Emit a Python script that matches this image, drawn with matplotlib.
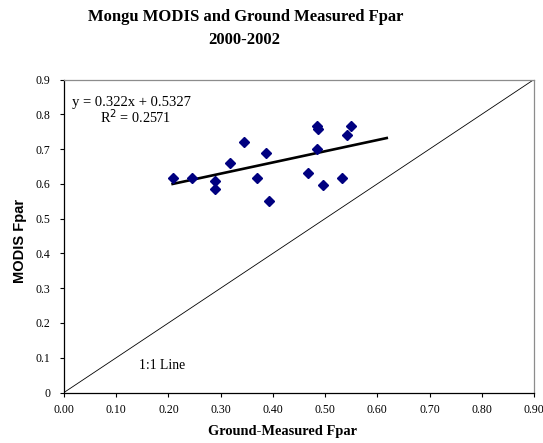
import matplotlib
matplotlib.use("Agg")
import matplotlib.pyplot as plt
import numpy as np

# Data
ground_fpar = [0.209, 0.245, 0.290, 0.290, 0.318, 0.345, 0.369, 0.386, 0.393,
               0.468, 0.484, 0.486, 0.484, 0.495, 0.532, 0.542, 0.550]
modis_fpar = [0.618, 0.618, 0.607, 0.585, 0.661, 0.720, 0.618, 0.690, 0.552,
              0.630, 0.766, 0.759, 0.699, 0.597, 0.618, 0.740, 0.766]
trend_slope = 0.322
trend_intercept = 0.5327
trend_r2 = 0.2571
trend_x_range = [0.208, 0.618]
one_to_one = [0.0, 0.9]
x_ticks = [0.0, 0.1, 0.2, 0.3, 0.4, 0.5, 0.6, 0.7, 0.8, 0.9]
x_tick_labels = ["0.00", "0.10", "0.20", "0.30", "0.40", "0.50", "0.60", "0.70", "0.80", "0.90"]
y_ticks = [0.0, 0.1, 0.2, 0.3, 0.4, 0.5, 0.6, 0.7, 0.8, 0.9]
y_tick_labels = ["0", "0.1", "0.2", "0.3", "0.4", "0.5", "0.6", "0.7", "0.8", "0.9"]

SERIF = ["Liberation Serif", "DejaVu Serif"]
SANS = ["Liberation Sans", "DejaVu Sans"]

fig = plt.figure(figsize=(5.43, 4.43), dpi=100)
ax = fig.add_axes([64 / 543, 1 - 392.5 / 443, 470 / 543, 313 / 443])

# 1:1 line
ax.plot(one_to_one, one_to_one, color="black", lw=0.6, zorder=2)

# trend line
tx = np.array(trend_x_range)
ax.plot(tx, trend_slope * tx + trend_intercept, color="black", lw=1.9, zorder=3)

# scatter points
ax.plot(ground_fpar, modis_fpar, linestyle="none", marker="D", markersize=4.8,
        color="#000080", markeredgecolor="#000080", zorder=4)

ax.set_xlim(0, 0.9)
ax.set_ylim(0, 0.9)
ax.set_xticks(x_ticks)
ax.set_xticklabels(x_tick_labels, fontfamily=SERIF, fontsize=8.5)
ax.set_yticks(y_ticks)
ax.set_yticklabels(y_tick_labels, fontfamily=SERIF, fontsize=8.5)
ax.tick_params(axis="both", direction="out", length=3, width=0.8, color="black")
ax.tick_params(axis="x", pad=5)
ax.tick_params(axis="y", pad=7)

for side in ["left", "bottom"]:
    ax.spines[side].set_color("black")
    ax.spines[side].set_linewidth(0.9)
for side in ["top", "right"]:
    ax.spines[side].set_color("#8c8c8c")
    ax.spines[side].set_linewidth(0.9)

ax.text(0.015, 0.835, f"y = {trend_slope}x + {trend_intercept}",
        fontfamily=SERIF, fontsize=10.5, ha="left", va="center")
ax.text(0.069, 0.792, f"R$^2$ = {trend_r2}",
        fontfamily=SERIF, fontsize=10.3, ha="left", va="center")
ax.text(0.144, 0.079, "1:1 Line", fontfamily=SERIF, fontsize=9.8,
        ha="left", va="center")

ax.set_xlabel("Ground-Measured Fpar", fontfamily=SERIF, fontsize=10.4,
              fontweight="bold")
ax.xaxis.set_label_coords((282 - 64) / 470, (392.5 - 431.7) / 313)
ax.xaxis.label.set_va("center")
ax.set_ylabel("MODIS Fpar", fontfamily=SANS, fontsize=10.5, fontweight="bold")
ax.yaxis.set_label_coords((20 - 64) / 470, (392.5 - 241) / 313)
ax.yaxis.label.set_va("center")

fig.text(246 / 543, 1 - 17 / 443, "Mongu MODIS and Ground Measured Fpar",
         fontfamily=SERIF, fontsize=12, fontweight="bold", ha="center", va="center")
fig.text(244 / 543, 1 - 40 / 443, "2000-2002",
         fontfamily=SERIF, fontsize=12, fontweight="bold", ha="center", va="center")

fig.savefig("out.png", dpi=100)
